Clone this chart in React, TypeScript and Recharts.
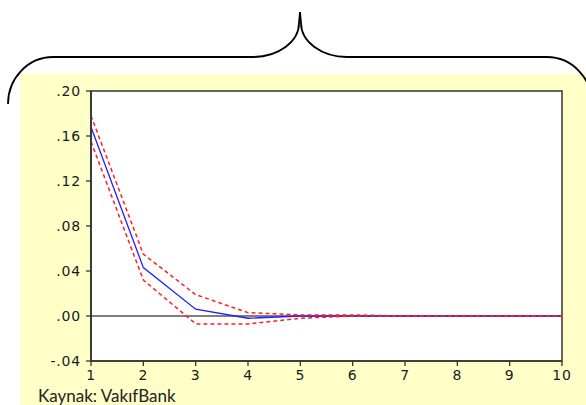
import React from "react";
import {
  Line,
  LineChart,
  ReferenceArea,
  ReferenceLine,
  XAxis,
  YAxis,
} from "recharts";

// ─── Data ────────────────────────────────────────────────────

const periods = [1, 2, 3, 4, 5, 6, 7, 8, 9, 10];
const response = [0.168, 0.043, 0.006, -0.002, 0.0, 0.0, 0.0, 0.0, 0.0, 0.0];
const upperBand = [0.178, 0.055, 0.019, 0.003, 0.001, 0.001, 0.0, 0.0, 0.0, 0.0];
const lowerBand = [0.155, 0.032, -0.007, -0.007, -0.002, 0.0, 0.0, 0.0, 0.0, 0.0];
const yTicks = [-0.04, 0.0, 0.04, 0.08, 0.12, 0.16, 0.2];
const sourceNote = "Kaynak: VakıfBank";

const data = periods.map((p, i) => ({
  period: p,
  response: response[i],
  upper: upperBand[i],
  lower: lowerBand[i],
}));

// ─── Axis defaults ───────────────────────────────────────────

const axisStyle = {
  tick: { fill: "#1a1a1a", fontSize: 14, fontFamily: "DejaVu Sans", letterSpacing: 0.8 },
  axisLine: { stroke: "#333", strokeWidth: 1.6 },
  tickLine: { stroke: "#333", strokeWidth: 1.3 },
  tickSize: 5,
};

const fmtY = (v: number) => v.toFixed(2).replace("0.", ".");

export default function App() {
  return (
    <div
      style={{
        position: "absolute",
        left: 0,
        top: 0,
        width: 586,
        height: 405,
        background: "#fff",
        overflow: "hidden",
      }}
    >
      <div
        style={{
          position: "absolute",
          left: 20,
          top: 74,
          width: 566,
          height: 331,
          background: "#FFFFC8",
        }}
      >
        <LineChart
          width={566}
          height={331}
          data={data}
          margin={{ top: 17, right: 24, left: 0, bottom: 0 }}
        >
          <ReferenceArea
            x1={1}
            x2={10}
            y1={-0.04}
            y2={0.2}
            fill="#fff"
            fillOpacity={1}
            stroke="#333"
            strokeWidth={1.5}
          />
          <XAxis
            dataKey="period"
            type="number"
            domain={[1, 10]}
            ticks={periods}
            height={44}
            tickMargin={4}
            {...axisStyle}
          />
          <YAxis
            type="number"
            domain={[-0.04, 0.2]}
            ticks={yTicks}
            width={71}
            tickMargin={5}
            tickFormatter={fmtY}
            {...axisStyle}
          />
          <ReferenceLine y={0} stroke="#000" strokeWidth={1} />
          <Line
            type="linear"
            dataKey="response"
            stroke="#2020FF"
            strokeWidth={1.3}
            dot={false}
            isAnimationActive={false}
          />
          <Line
            type="linear"
            dataKey="upper"
            stroke="#FF2020"
            strokeWidth={1.5}
            strokeDasharray="4 3"
            dot={false}
            isAnimationActive={false}
          />
          <Line
            type="linear"
            dataKey="lower"
            stroke="#FF2020"
            strokeWidth={1.5}
            strokeDasharray="4 3"
            dot={false}
            isAnimationActive={false}
          />
        </LineChart>
      </div>
      <svg
        width={586}
        height={405}
        style={{ position: "absolute", left: 0, top: 0, pointerEvents: "none" }}
      >
        {/* curly brace over the panel */}
        <path
          d="M 8 104 A 45 47 0 0 1 53 57 L 253 57 A 46 34 0 0 0 299 23 L 300 12 L 301 23 A 46 34 0 0 0 347 57 L 547 57 A 45 47 0 0 1 592 104"
          fill="none"
          stroke="#000"
          strokeWidth={1.8}
        />
        <text x={38} y={402} fontFamily="Lato" fontSize={17} fill="#222">
          {sourceNote}
        </text>
      </svg>
    </div>
  );
}
